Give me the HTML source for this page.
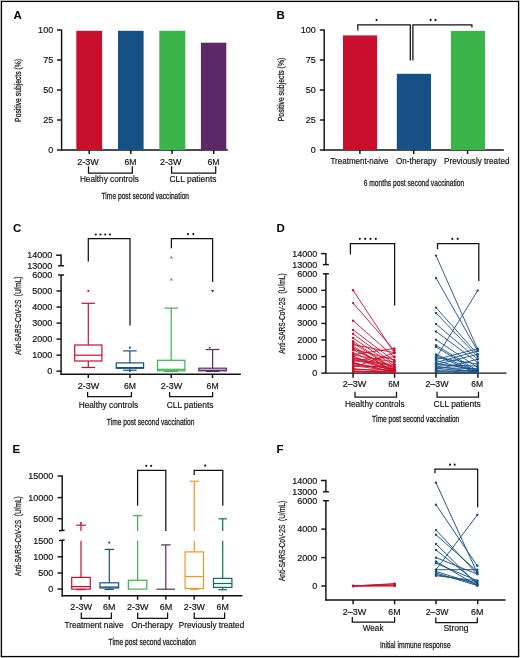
<!DOCTYPE html>
<html><head><meta charset="utf-8"><style>
html,body{margin:0;padding:0;background:#fff;}
svg{display:block;font-family:"Liberation Sans", sans-serif;}
svg{will-change:transform}
</style></head><body>
<svg width="520" height="658" viewBox="0 0 520 658">
<rect width="520" height="658" fill="#fff"/>
<rect x="0" y="0" width="520" height="1" fill="#c8c8c8"/>
<rect x="0" y="0" width="1" height="658" fill="#c8c8c8"/>
<rect x="519" y="0" width="1" height="658" fill="#cccccc"/>
<rect x="0" y="657" width="520" height="1" fill="#cccccc"/>
<rect x="1.5" y="1.5" width="517" height="655" fill="none" stroke="#000" stroke-width="1.15"/>
<text x="13.6" y="18.9" font-size="11.5" text-anchor="start" fill="#000" font-weight="bold">A</text>
<line x1="61.6" y1="29.6" x2="61.6" y2="150.6" stroke="#111" stroke-width="1.45"/>
<line x1="57" y1="30" x2="61.6" y2="30" stroke="#111" stroke-width="1.45"/>
<text x="53.2" y="33.4" font-size="8.6" text-anchor="end" fill="#111" font-weight="normal" stroke="#111" stroke-width="0.16" textLength="15.07" lengthAdjust="spacingAndGlyphs">100</text>
<line x1="57" y1="60" x2="61.6" y2="60" stroke="#111" stroke-width="1.45"/>
<text x="53.2" y="63.4" font-size="8.6" text-anchor="end" fill="#111" font-weight="normal" stroke="#111" stroke-width="0.16" textLength="10.04" lengthAdjust="spacingAndGlyphs">75</text>
<line x1="57" y1="90" x2="61.6" y2="90" stroke="#111" stroke-width="1.45"/>
<text x="53.2" y="93.4" font-size="8.6" text-anchor="end" fill="#111" font-weight="normal" stroke="#111" stroke-width="0.16" textLength="10.04" lengthAdjust="spacingAndGlyphs">50</text>
<line x1="57" y1="120" x2="61.6" y2="120" stroke="#111" stroke-width="1.45"/>
<text x="53.2" y="123.4" font-size="8.6" text-anchor="end" fill="#111" font-weight="normal" stroke="#111" stroke-width="0.16" textLength="10.04" lengthAdjust="spacingAndGlyphs">25</text>
<line x1="57" y1="150" x2="61.6" y2="150" stroke="#111" stroke-width="1.45"/>
<text x="53.2" y="153.4" font-size="8.6" text-anchor="end" fill="#111" font-weight="normal" stroke="#111" stroke-width="0.16" textLength="5.02" lengthAdjust="spacingAndGlyphs">0</text>
<line x1="61" y1="150" x2="227.8" y2="150" stroke="#111" stroke-width="1.45"/>
<rect x="76.3" y="30.8" width="25.799999999999997" height="119.2" fill="#c8102e"/>
<rect x="118" y="30.8" width="25.599999999999994" height="119.2" fill="#165185"/>
<rect x="159.3" y="30.8" width="26.0" height="119.2" fill="#3bb44a"/>
<rect x="200.9" y="42.7" width="25.400000000000006" height="107.3" fill="#5b2868"/>
<line x1="89.2" y1="150" x2="89.2" y2="154" stroke="#111" stroke-width="1.45"/>
<line x1="130.8" y1="150" x2="130.8" y2="154" stroke="#111" stroke-width="1.45"/>
<line x1="172.1" y1="150" x2="172.1" y2="154" stroke="#111" stroke-width="1.45"/>
<line x1="213.7" y1="150" x2="213.7" y2="154" stroke="#111" stroke-width="1.45"/>
<text transform="translate(21.2,90.4) rotate(-90)" x="0" y="0" font-size="9.8" text-anchor="middle" fill="#1e1e1e" stroke="#1e1e1e" stroke-width="0.3" textLength="63" lengthAdjust="spacingAndGlyphs">Positive subjects (%)</text>
<text x="88" y="164.6" font-size="8.2" text-anchor="middle" fill="#111" font-weight="normal" stroke="#111" stroke-width="0.16" textLength="21.5" lengthAdjust="spacingAndGlyphs">2-3W</text>
<text x="130.5" y="164.6" font-size="8.2" text-anchor="middle" fill="#111" font-weight="normal" stroke="#111" stroke-width="0.16" textLength="12" lengthAdjust="spacingAndGlyphs">6M</text>
<text x="170.8" y="164.6" font-size="8.2" text-anchor="middle" fill="#111" font-weight="normal" stroke="#111" stroke-width="0.16" textLength="21.5" lengthAdjust="spacingAndGlyphs">2-3W</text>
<text x="213.4" y="164.6" font-size="8.2" text-anchor="middle" fill="#111" font-weight="normal" stroke="#111" stroke-width="0.16" textLength="12" lengthAdjust="spacingAndGlyphs">6M</text>
<polyline points="88.5,166.3 88.5,173.0 132.3,173.0 132.3,166.3" fill="none" stroke="#111" stroke-width="1.25" stroke-linejoin="miter" stroke-linecap="butt"/>
<polyline points="171.6,166.3 171.6,173.0 215.7,173.0 215.7,166.3" fill="none" stroke="#111" stroke-width="1.25" stroke-linejoin="miter" stroke-linecap="butt"/>
<text x="109.4" y="181.6" font-size="8.2" text-anchor="middle" fill="#111" font-weight="normal" stroke="#111" stroke-width="0.16" textLength="59" lengthAdjust="spacingAndGlyphs">Healthy controls</text>
<text x="193" y="181.6" font-size="8.2" text-anchor="middle" fill="#111" font-weight="normal" stroke="#111" stroke-width="0.16" textLength="47" lengthAdjust="spacingAndGlyphs">CLL patients</text>
<text x="145.3" y="198.8" font-size="9.8" text-anchor="middle" fill="#1e1e1e" font-weight="normal" stroke="#1e1e1e" stroke-width="0.3" textLength="87.5" lengthAdjust="spacingAndGlyphs">Time post second vaccination</text>
<text x="276.5" y="19.3" font-size="11.5" text-anchor="start" fill="#000" font-weight="bold">B</text>
<line x1="324.2" y1="29.6" x2="324.2" y2="150.6" stroke="#111" stroke-width="1.45"/>
<line x1="319.8" y1="30" x2="324.2" y2="30" stroke="#111" stroke-width="1.45"/>
<text x="315.8" y="33.4" font-size="8.6" text-anchor="end" fill="#111" font-weight="normal" stroke="#111" stroke-width="0.16" textLength="15.07" lengthAdjust="spacingAndGlyphs">100</text>
<line x1="319.8" y1="60" x2="324.2" y2="60" stroke="#111" stroke-width="1.45"/>
<text x="315.8" y="63.4" font-size="8.6" text-anchor="end" fill="#111" font-weight="normal" stroke="#111" stroke-width="0.16" textLength="10.04" lengthAdjust="spacingAndGlyphs">75</text>
<line x1="319.8" y1="90" x2="324.2" y2="90" stroke="#111" stroke-width="1.45"/>
<text x="315.8" y="93.4" font-size="8.6" text-anchor="end" fill="#111" font-weight="normal" stroke="#111" stroke-width="0.16" textLength="10.04" lengthAdjust="spacingAndGlyphs">50</text>
<line x1="319.8" y1="120" x2="324.2" y2="120" stroke="#111" stroke-width="1.45"/>
<text x="315.8" y="123.4" font-size="8.6" text-anchor="end" fill="#111" font-weight="normal" stroke="#111" stroke-width="0.16" textLength="10.04" lengthAdjust="spacingAndGlyphs">25</text>
<line x1="319.8" y1="150" x2="324.2" y2="150" stroke="#111" stroke-width="1.45"/>
<text x="315.8" y="153.4" font-size="8.6" text-anchor="end" fill="#111" font-weight="normal" stroke="#111" stroke-width="0.16" textLength="5.02" lengthAdjust="spacingAndGlyphs">0</text>
<line x1="323.6" y1="150" x2="503.8" y2="150" stroke="#111" stroke-width="1.45"/>
<rect x="343" y="35.4" width="34.10000000000002" height="114.6" fill="#c8102e"/>
<rect x="396.8" y="73.8" width="34.19999999999999" height="76.2" fill="#165185"/>
<rect x="450.9" y="30.9" width="34.10000000000002" height="119.1" fill="#3bb44a"/>
<line x1="359.9" y1="150" x2="359.9" y2="154" stroke="#111" stroke-width="1.45"/>
<line x1="413.7" y1="150" x2="413.7" y2="154" stroke="#111" stroke-width="1.45"/>
<line x1="467.6" y1="150" x2="467.6" y2="154" stroke="#111" stroke-width="1.45"/>
<text transform="translate(284.2,89.5) rotate(-90)" x="0" y="0" font-size="9.8" text-anchor="middle" fill="#1e1e1e" stroke="#1e1e1e" stroke-width="0.3" textLength="63.5" lengthAdjust="spacingAndGlyphs">Positive subjects (%)</text>
<text x="359.5" y="163.6" font-size="8.2" text-anchor="middle" fill="#111" font-weight="normal" stroke="#111" stroke-width="0.16" textLength="58" lengthAdjust="spacingAndGlyphs">Treatment-naive</text>
<text x="416.2" y="163.6" font-size="8.2" text-anchor="middle" fill="#111" font-weight="normal" stroke="#111" stroke-width="0.16" textLength="40.5" lengthAdjust="spacingAndGlyphs">On-therapy</text>
<text x="476.8" y="163.6" font-size="8.2" text-anchor="middle" fill="#111" font-weight="normal" stroke="#111" stroke-width="0.16" textLength="65.5" lengthAdjust="spacingAndGlyphs">Previously treated</text>
<text x="414" y="185.9" font-size="9.8" text-anchor="middle" fill="#1e1e1e" font-weight="normal" stroke="#1e1e1e" stroke-width="0.3" textLength="100.5" lengthAdjust="spacingAndGlyphs">6 months post second vaccination</text>
<polyline points="357.8,30.6 357.8,24.8 410.3,24.8 410.3,60.6" fill="none" stroke="#111" stroke-width="1.25" stroke-linejoin="miter" stroke-linecap="butt"/>
<polyline points="412.9,60.6 412.9,24.8 471.9,24.8 471.9,27.6" fill="none" stroke="#111" stroke-width="1.25" stroke-linejoin="miter" stroke-linecap="butt"/>
<circle cx="376.6" cy="20.1" r="1.1" fill="#111"/>
<circle cx="430.6" cy="19.9" r="1.1" fill="#111"/>
<circle cx="435.5" cy="19.9" r="1.1" fill="#111"/>
<text x="13" y="232.2" font-size="11.5" text-anchor="start" fill="#000" font-weight="bold">C</text>
<line x1="61.1" y1="254.5" x2="61.1" y2="265.8" stroke="#111" stroke-width="1.45"/>
<line x1="56.1" y1="255.2" x2="61.1" y2="255.2" stroke="#111" stroke-width="1.45"/>
<text x="52.3" y="258.2" font-size="8.2" text-anchor="end" fill="#111" font-weight="normal" stroke="#111" stroke-width="0.16" textLength="25.08" lengthAdjust="spacingAndGlyphs">14000</text>
<line x1="58.1" y1="265.8" x2="64.1" y2="265.8" stroke="#111" stroke-width="1.45"/>
<text x="52.3" y="268.8" font-size="8.2" text-anchor="end" fill="#111" font-weight="normal" stroke="#111" stroke-width="0.16" textLength="25.08" lengthAdjust="spacingAndGlyphs">13000</text>
<line x1="61.1" y1="275.0" x2="61.1" y2="374.8" stroke="#111" stroke-width="1.45"/>
<line x1="58.1" y1="275.0" x2="64.1" y2="275.0" stroke="#111" stroke-width="1.45"/>
<text x="52.3" y="278.0" font-size="8.2" text-anchor="end" fill="#111" font-weight="normal" stroke="#111" stroke-width="0.16" textLength="20.07" lengthAdjust="spacingAndGlyphs">6000</text>
<line x1="56.5" y1="291.03" x2="61.1" y2="291.03" stroke="#111" stroke-width="1.45"/>
<text x="52.3" y="294.03" font-size="8.2" text-anchor="end" fill="#111" font-weight="normal" stroke="#111" stroke-width="0.16" textLength="20.07" lengthAdjust="spacingAndGlyphs">5000</text>
<line x1="56.5" y1="307.06" x2="61.1" y2="307.06" stroke="#111" stroke-width="1.45"/>
<text x="52.3" y="310.06" font-size="8.2" text-anchor="end" fill="#111" font-weight="normal" stroke="#111" stroke-width="0.16" textLength="20.07" lengthAdjust="spacingAndGlyphs">4000</text>
<line x1="56.5" y1="323.09000000000003" x2="61.1" y2="323.09000000000003" stroke="#111" stroke-width="1.45"/>
<text x="52.3" y="326.09000000000003" font-size="8.2" text-anchor="end" fill="#111" font-weight="normal" stroke="#111" stroke-width="0.16" textLength="20.07" lengthAdjust="spacingAndGlyphs">3000</text>
<line x1="56.5" y1="339.12" x2="61.1" y2="339.12" stroke="#111" stroke-width="1.45"/>
<text x="52.3" y="342.12" font-size="8.2" text-anchor="end" fill="#111" font-weight="normal" stroke="#111" stroke-width="0.16" textLength="20.07" lengthAdjust="spacingAndGlyphs">2000</text>
<line x1="56.5" y1="355.15" x2="61.1" y2="355.15" stroke="#111" stroke-width="1.45"/>
<text x="52.3" y="358.15" font-size="8.2" text-anchor="end" fill="#111" font-weight="normal" stroke="#111" stroke-width="0.16" textLength="20.07" lengthAdjust="spacingAndGlyphs">1000</text>
<line x1="56.5" y1="371.18" x2="61.1" y2="371.18" stroke="#111" stroke-width="1.45"/>
<text x="52.3" y="374.18" font-size="8.2" text-anchor="end" fill="#111" font-weight="normal" stroke="#111" stroke-width="0.16" textLength="5.02" lengthAdjust="spacingAndGlyphs">0</text>
<line x1="60.4" y1="374.2" x2="240.8" y2="374.2" stroke="#111" stroke-width="1.45"/>
<line x1="88.3" y1="374.2" x2="88.3" y2="378" stroke="#111" stroke-width="1.45"/>
<line x1="130" y1="374.2" x2="130" y2="378" stroke="#111" stroke-width="1.45"/>
<line x1="171.2" y1="374.2" x2="171.2" y2="378" stroke="#111" stroke-width="1.45"/>
<line x1="212.5" y1="374.2" x2="212.5" y2="378" stroke="#111" stroke-width="1.45"/>
<text transform="translate(21.0,315.7) rotate(-90)" x="0" y="0" font-size="9.8" text-anchor="middle" fill="#1e1e1e" stroke="#1e1e1e" stroke-width="0.3" textLength="78.3" lengthAdjust="spacingAndGlyphs">Anti-SARS-CoV-2S&#160;&#160;(U/mL)</text>
<line x1="88.3" y1="303.3" x2="88.3" y2="345" stroke="#c8102e" stroke-width="1.2"/>
<line x1="81.5" y1="303.3" x2="95.1" y2="303.3" stroke="#c8102e" stroke-width="1.2"/>
<line x1="88.3" y1="361" x2="88.3" y2="367.5" stroke="#c8102e" stroke-width="1.2"/>
<line x1="81.5" y1="367.5" x2="95.1" y2="367.5" stroke="#c8102e" stroke-width="1.2"/>
<rect x="74.7" y="345" width="27.2" height="16" fill="none" stroke="#c8102e" stroke-width="1.2"/>
<line x1="74.7" y1="355.2" x2="101.89999999999999" y2="355.2" stroke="#c8102e" stroke-width="1.2"/>
<circle cx="88.3" cy="290.8" r="1.1" fill="#c8102e"/>
<line x1="129.9" y1="350.9" x2="129.9" y2="362.9" stroke="#165185" stroke-width="1.2"/>
<line x1="123.10000000000001" y1="350.9" x2="136.70000000000002" y2="350.9" stroke="#165185" stroke-width="1.2"/>
<line x1="129.9" y1="368.3" x2="129.9" y2="370.2" stroke="#165185" stroke-width="1.2"/>
<line x1="123.10000000000001" y1="370.2" x2="136.70000000000002" y2="370.2" stroke="#165185" stroke-width="1.2"/>
<rect x="116.2" y="362.9" width="27.4" height="5.400000000000034" fill="none" stroke="#165185" stroke-width="1.2"/>
<line x1="116.2" y1="367.6" x2="143.6" y2="367.6" stroke="#165185" stroke-width="1.2"/>
<circle cx="129.9" cy="347.7" r="1.1" fill="#165185"/>
<circle cx="129.9" cy="371" r="1.0" fill="#165185"/>
<line x1="171.2" y1="308.1" x2="171.2" y2="360.3" stroke="#3bb44a" stroke-width="1.2"/>
<line x1="164.39999999999998" y1="308.1" x2="178.0" y2="308.1" stroke="#3bb44a" stroke-width="1.2"/>
<line x1="171.2" y1="370.8" x2="171.2" y2="371.4" stroke="#3bb44a" stroke-width="1.2"/>
<line x1="164.39999999999998" y1="371.4" x2="178.0" y2="371.4" stroke="#3bb44a" stroke-width="1.2"/>
<rect x="157.5" y="360.3" width="27.4" height="10.5" fill="none" stroke="#3bb44a" stroke-width="1.2"/>
<line x1="157.5" y1="369.3" x2="184.89999999999998" y2="369.3" stroke="#3bb44a" stroke-width="1.2"/>
<polygon points="169.8,258.58 173.0,258.58 171.4,255.70000000000002" fill="#3bb44a"/>
<polygon points="169.8,280.58 173.0,280.58 171.4,277.7" fill="#3bb44a"/>
<line x1="212.6" y1="349.5" x2="212.6" y2="368.2" stroke="#5b2868" stroke-width="1.2"/>
<line x1="205.79999999999998" y1="349.5" x2="219.4" y2="349.5" stroke="#5b2868" stroke-width="1.2"/>
<line x1="212.6" y1="370.8" x2="212.6" y2="371.4" stroke="#5b2868" stroke-width="1.2"/>
<line x1="205.79999999999998" y1="371.4" x2="219.4" y2="371.4" stroke="#5b2868" stroke-width="1.2"/>
<rect x="198.79999999999998" y="368.2" width="27.6" height="2.6000000000000227" fill="none" stroke="#5b2868" stroke-width="1.2"/>
<line x1="198.79999999999998" y1="370.2" x2="226.4" y2="370.2" stroke="#5b2868" stroke-width="1.2"/>
<polygon points="211.0,289.92 214.2,289.92 212.6,292.8" fill="#5b2868"/>
<circle cx="209.9" cy="347.6" r="0.9" fill="#5b2868"/>
<polyline points="88.3,261.5 88.3,238.6 130,238.6 130,325.4" fill="none" stroke="#111" stroke-width="1.25" stroke-linejoin="miter" stroke-linecap="butt"/>
<polyline points="171.4,248.2 171.4,238.6 212.6,238.6 212.6,282.1" fill="none" stroke="#111" stroke-width="1.25" stroke-linejoin="miter" stroke-linecap="butt"/>
<circle cx="95.75" cy="234.5" r="1.1" fill="#111"/>
<circle cx="100.5" cy="234.5" r="1.1" fill="#111"/>
<circle cx="105.25" cy="234.5" r="1.1" fill="#111"/>
<circle cx="110.0" cy="234.5" r="1.1" fill="#111"/>
<circle cx="187.9" cy="234.1" r="1.1" fill="#111"/>
<circle cx="193.3" cy="234.1" r="1.1" fill="#111"/>
<text x="88.5" y="389.4" font-size="8.2" text-anchor="middle" fill="#111" font-weight="normal" stroke="#111" stroke-width="0.16" textLength="21.5" lengthAdjust="spacingAndGlyphs">2-3W</text>
<text x="130" y="389.4" font-size="8.2" text-anchor="middle" fill="#111" font-weight="normal" stroke="#111" stroke-width="0.16" textLength="12" lengthAdjust="spacingAndGlyphs">6M</text>
<text x="171.4" y="389.4" font-size="8.2" text-anchor="middle" fill="#111" font-weight="normal" stroke="#111" stroke-width="0.16" textLength="21.5" lengthAdjust="spacingAndGlyphs">2-3W</text>
<text x="212.6" y="389.4" font-size="8.2" text-anchor="middle" fill="#111" font-weight="normal" stroke="#111" stroke-width="0.16" textLength="12" lengthAdjust="spacingAndGlyphs">6M</text>
<polyline points="87.6,392 87.6,396.7 131.4,396.7 131.4,392" fill="none" stroke="#111" stroke-width="1.25" stroke-linejoin="miter" stroke-linecap="butt"/>
<polyline points="169.6,392 169.6,396.7 212.6,396.7 212.6,392" fill="none" stroke="#111" stroke-width="1.25" stroke-linejoin="miter" stroke-linecap="butt"/>
<text x="108.4" y="408" font-size="8.2" text-anchor="middle" fill="#111" font-weight="normal" stroke="#111" stroke-width="0.16" textLength="59.5" lengthAdjust="spacingAndGlyphs">Healthy controls</text>
<text x="190.1" y="408" font-size="8.2" text-anchor="middle" fill="#111" font-weight="normal" stroke="#111" stroke-width="0.16" textLength="46.8" lengthAdjust="spacingAndGlyphs">CLL patients</text>
<text x="150.6" y="424.6" font-size="9.8" text-anchor="middle" fill="#1e1e1e" font-weight="normal" stroke="#1e1e1e" stroke-width="0.3" textLength="87.5" lengthAdjust="spacingAndGlyphs">Time post second vaccination</text>
<text x="276.4" y="231.9" font-size="11.5" text-anchor="start" fill="#000" font-weight="bold">D</text>
<line x1="325.9" y1="252.9" x2="325.9" y2="264.6" stroke="#111" stroke-width="1.45"/>
<line x1="320.9" y1="253.6" x2="325.9" y2="253.6" stroke="#111" stroke-width="1.45"/>
<text x="317.3" y="256.6" font-size="8.2" text-anchor="end" fill="#111" font-weight="normal" stroke="#111" stroke-width="0.16" textLength="25.08" lengthAdjust="spacingAndGlyphs">14000</text>
<line x1="322.9" y1="264.6" x2="328.9" y2="264.6" stroke="#111" stroke-width="1.45"/>
<text x="317.3" y="267.6" font-size="8.2" text-anchor="end" fill="#111" font-weight="normal" stroke="#111" stroke-width="0.16" textLength="25.08" lengthAdjust="spacingAndGlyphs">13000</text>
<line x1="325.9" y1="273.8" x2="325.9" y2="373.6" stroke="#111" stroke-width="1.45"/>
<line x1="322.9" y1="273.8" x2="328.9" y2="273.8" stroke="#111" stroke-width="1.45"/>
<text x="317.3" y="276.8" font-size="8.2" text-anchor="end" fill="#111" font-weight="normal" stroke="#111" stroke-width="0.16" textLength="20.07" lengthAdjust="spacingAndGlyphs">6000</text>
<line x1="321.29999999999995" y1="290.35" x2="325.9" y2="290.35" stroke="#111" stroke-width="1.45"/>
<text x="317.3" y="293.35" font-size="8.2" text-anchor="end" fill="#111" font-weight="normal" stroke="#111" stroke-width="0.16" textLength="20.07" lengthAdjust="spacingAndGlyphs">5000</text>
<line x1="321.29999999999995" y1="306.90000000000003" x2="325.9" y2="306.90000000000003" stroke="#111" stroke-width="1.45"/>
<text x="317.3" y="309.90000000000003" font-size="8.2" text-anchor="end" fill="#111" font-weight="normal" stroke="#111" stroke-width="0.16" textLength="20.07" lengthAdjust="spacingAndGlyphs">4000</text>
<line x1="321.29999999999995" y1="323.45000000000005" x2="325.9" y2="323.45000000000005" stroke="#111" stroke-width="1.45"/>
<text x="317.3" y="326.45000000000005" font-size="8.2" text-anchor="end" fill="#111" font-weight="normal" stroke="#111" stroke-width="0.16" textLength="20.07" lengthAdjust="spacingAndGlyphs">3000</text>
<line x1="321.29999999999995" y1="340.0" x2="325.9" y2="340.0" stroke="#111" stroke-width="1.45"/>
<text x="317.3" y="343.0" font-size="8.2" text-anchor="end" fill="#111" font-weight="normal" stroke="#111" stroke-width="0.16" textLength="20.07" lengthAdjust="spacingAndGlyphs">2000</text>
<line x1="321.29999999999995" y1="356.55" x2="325.9" y2="356.55" stroke="#111" stroke-width="1.45"/>
<text x="317.3" y="359.55" font-size="8.2" text-anchor="end" fill="#111" font-weight="normal" stroke="#111" stroke-width="0.16" textLength="20.07" lengthAdjust="spacingAndGlyphs">1000</text>
<line x1="321.29999999999995" y1="373.1" x2="325.9" y2="373.1" stroke="#111" stroke-width="1.45"/>
<text x="317.3" y="376.1" font-size="8.2" text-anchor="end" fill="#111" font-weight="normal" stroke="#111" stroke-width="0.16" textLength="5.02" lengthAdjust="spacingAndGlyphs">0</text>
<line x1="325.2" y1="373.1" x2="506.5" y2="373.1" stroke="#111" stroke-width="1.45"/>
<line x1="353.1" y1="373.1" x2="353.1" y2="377.7" stroke="#111" stroke-width="1.45"/>
<line x1="394.6" y1="373.1" x2="394.6" y2="377.7" stroke="#111" stroke-width="1.45"/>
<line x1="436" y1="373.1" x2="436" y2="377.7" stroke="#111" stroke-width="1.45"/>
<line x1="477.9" y1="373.1" x2="477.9" y2="377.7" stroke="#111" stroke-width="1.45"/>
<text transform="translate(284.9,313.6) rotate(-90)" x="0" y="0" font-size="9.8" text-anchor="middle" fill="#1e1e1e" stroke="#1e1e1e" stroke-width="0.3" textLength="80.4" lengthAdjust="spacingAndGlyphs">Anti-SARS-CoV-2S&#160;&#160;(U/mL)</text>
<polyline points="350.4,254.6 350.4,243.6 394.6,243.6 394.6,305.4" fill="none" stroke="#111" stroke-width="1.25" stroke-linejoin="miter" stroke-linecap="butt"/>
<polyline points="437.5,249.2 437.5,243.6 478.8,243.6 478.8,281" fill="none" stroke="#111" stroke-width="1.25" stroke-linejoin="miter" stroke-linecap="butt"/>
<circle cx="359.8" cy="238.8" r="1.1" fill="#111"/>
<circle cx="365.1" cy="238.8" r="1.1" fill="#111"/>
<circle cx="370.5" cy="238.8" r="1.1" fill="#111"/>
<circle cx="375.8" cy="238.8" r="1.1" fill="#111"/>
<circle cx="452.3" cy="238.8" r="1.1" fill="#111"/>
<circle cx="457.7" cy="238.8" r="1.1" fill="#111"/>
<line x1="353.1" y1="290.3" x2="394.4" y2="353" stroke="#c8102e" stroke-width="0.9"/>
<line x1="353.1" y1="303.1" x2="394.4" y2="350.5" stroke="#c8102e" stroke-width="0.9"/>
<line x1="353.1" y1="320.7" x2="394.4" y2="357" stroke="#c8102e" stroke-width="0.9"/>
<line x1="353.1" y1="329.9" x2="394.4" y2="361" stroke="#c8102e" stroke-width="0.9"/>
<line x1="353.1" y1="333.8" x2="394.4" y2="364.2" stroke="#c8102e" stroke-width="0.9"/>
<line x1="353.1" y1="338" x2="394.4" y2="366" stroke="#c8102e" stroke-width="0.9"/>
<line x1="353.1" y1="341.3" x2="394.4" y2="369" stroke="#c8102e" stroke-width="0.9"/>
<line x1="353.1" y1="344.6" x2="394.4" y2="352.7" stroke="#c8102e" stroke-width="0.9"/>
<line x1="353.1" y1="347.8" x2="394.4" y2="371.7" stroke="#c8102e" stroke-width="0.9"/>
<line x1="353.1" y1="350" x2="394.4" y2="367.5" stroke="#c8102e" stroke-width="0.9"/>
<line x1="353.1" y1="352.7" x2="394.4" y2="370.5" stroke="#c8102e" stroke-width="0.9"/>
<line x1="353.1" y1="354.5" x2="394.4" y2="348.5" stroke="#c8102e" stroke-width="0.9"/>
<line x1="353.1" y1="356" x2="394.4" y2="372" stroke="#c8102e" stroke-width="0.9"/>
<line x1="353.1" y1="357.6" x2="394.4" y2="366.5" stroke="#c8102e" stroke-width="0.9"/>
<line x1="353.1" y1="359" x2="394.4" y2="371" stroke="#c8102e" stroke-width="0.9"/>
<line x1="353.1" y1="360.5" x2="394.4" y2="356.7" stroke="#c8102e" stroke-width="0.9"/>
<line x1="353.1" y1="362.5" x2="394.4" y2="372.3" stroke="#c8102e" stroke-width="0.9"/>
<line x1="353.1" y1="364" x2="394.4" y2="369" stroke="#c8102e" stroke-width="0.9"/>
<line x1="353.1" y1="365.5" x2="394.4" y2="371.5" stroke="#c8102e" stroke-width="0.9"/>
<line x1="353.1" y1="367.5" x2="394.4" y2="352.7" stroke="#c8102e" stroke-width="0.9"/>
<line x1="353.1" y1="368.5" x2="394.4" y2="372.5" stroke="#c8102e" stroke-width="0.9"/>
<line x1="353.1" y1="369.5" x2="394.4" y2="370.2" stroke="#c8102e" stroke-width="0.9"/>
<line x1="353.1" y1="370.7" x2="394.4" y2="372.6" stroke="#c8102e" stroke-width="0.9"/>
<line x1="353.1" y1="346" x2="394.4" y2="372.4" stroke="#c8102e" stroke-width="0.9"/>
<line x1="353.1" y1="355" x2="394.4" y2="362" stroke="#c8102e" stroke-width="0.9"/>
<line x1="353.1" y1="358" x2="394.4" y2="369.5" stroke="#c8102e" stroke-width="0.9"/>
<line x1="353.1" y1="361" x2="394.4" y2="364.5" stroke="#c8102e" stroke-width="0.9"/>
<line x1="353.1" y1="363" x2="394.4" y2="372" stroke="#c8102e" stroke-width="0.9"/>
<line x1="353.1" y1="366" x2="394.4" y2="367" stroke="#c8102e" stroke-width="0.9"/>
<line x1="353.1" y1="349" x2="394.4" y2="360" stroke="#c8102e" stroke-width="0.9"/>
<line x1="353.1" y1="343" x2="394.4" y2="369.8" stroke="#c8102e" stroke-width="0.9"/>
<line x1="353.1" y1="371.5" x2="394.4" y2="371.8" stroke="#c8102e" stroke-width="0.9"/>
<line x1="353.1" y1="372" x2="394.4" y2="372.8" stroke="#c8102e" stroke-width="0.9"/>
<circle cx="353.1" cy="290.3" r="1.2" fill="#c8102e"/>
<circle cx="394.4" cy="353" r="1.2" fill="#c8102e"/>
<circle cx="353.1" cy="303.1" r="1.2" fill="#c8102e"/>
<circle cx="394.4" cy="350.5" r="1.2" fill="#c8102e"/>
<circle cx="353.1" cy="320.7" r="1.2" fill="#c8102e"/>
<circle cx="394.4" cy="357" r="1.2" fill="#c8102e"/>
<circle cx="353.1" cy="329.9" r="1.2" fill="#c8102e"/>
<circle cx="394.4" cy="361" r="1.2" fill="#c8102e"/>
<circle cx="353.1" cy="333.8" r="1.2" fill="#c8102e"/>
<circle cx="394.4" cy="364.2" r="1.2" fill="#c8102e"/>
<circle cx="353.1" cy="338" r="1.2" fill="#c8102e"/>
<circle cx="394.4" cy="366" r="1.2" fill="#c8102e"/>
<circle cx="353.1" cy="341.3" r="1.2" fill="#c8102e"/>
<circle cx="394.4" cy="369" r="1.2" fill="#c8102e"/>
<circle cx="353.1" cy="344.6" r="1.2" fill="#c8102e"/>
<circle cx="394.4" cy="352.7" r="1.2" fill="#c8102e"/>
<circle cx="353.1" cy="347.8" r="1.2" fill="#c8102e"/>
<circle cx="394.4" cy="371.7" r="1.2" fill="#c8102e"/>
<circle cx="353.1" cy="350" r="1.2" fill="#c8102e"/>
<circle cx="394.4" cy="367.5" r="1.2" fill="#c8102e"/>
<circle cx="353.1" cy="352.7" r="1.2" fill="#c8102e"/>
<circle cx="394.4" cy="370.5" r="1.2" fill="#c8102e"/>
<circle cx="353.1" cy="354.5" r="1.2" fill="#c8102e"/>
<circle cx="394.4" cy="348.5" r="1.2" fill="#c8102e"/>
<circle cx="353.1" cy="356" r="1.2" fill="#c8102e"/>
<circle cx="394.4" cy="372" r="1.2" fill="#c8102e"/>
<circle cx="353.1" cy="357.6" r="1.2" fill="#c8102e"/>
<circle cx="394.4" cy="366.5" r="1.2" fill="#c8102e"/>
<circle cx="353.1" cy="359" r="1.2" fill="#c8102e"/>
<circle cx="394.4" cy="371" r="1.2" fill="#c8102e"/>
<circle cx="353.1" cy="360.5" r="1.2" fill="#c8102e"/>
<circle cx="394.4" cy="356.7" r="1.2" fill="#c8102e"/>
<circle cx="353.1" cy="362.5" r="1.2" fill="#c8102e"/>
<circle cx="394.4" cy="372.3" r="1.2" fill="#c8102e"/>
<circle cx="353.1" cy="364" r="1.2" fill="#c8102e"/>
<circle cx="394.4" cy="369" r="1.2" fill="#c8102e"/>
<circle cx="353.1" cy="365.5" r="1.2" fill="#c8102e"/>
<circle cx="394.4" cy="371.5" r="1.2" fill="#c8102e"/>
<circle cx="353.1" cy="367.5" r="1.2" fill="#c8102e"/>
<circle cx="394.4" cy="352.7" r="1.2" fill="#c8102e"/>
<circle cx="353.1" cy="368.5" r="1.2" fill="#c8102e"/>
<circle cx="394.4" cy="372.5" r="1.2" fill="#c8102e"/>
<circle cx="353.1" cy="369.5" r="1.2" fill="#c8102e"/>
<circle cx="394.4" cy="370.2" r="1.2" fill="#c8102e"/>
<circle cx="353.1" cy="370.7" r="1.2" fill="#c8102e"/>
<circle cx="394.4" cy="372.6" r="1.2" fill="#c8102e"/>
<circle cx="353.1" cy="346" r="1.2" fill="#c8102e"/>
<circle cx="394.4" cy="372.4" r="1.2" fill="#c8102e"/>
<circle cx="353.1" cy="355" r="1.2" fill="#c8102e"/>
<circle cx="394.4" cy="362" r="1.2" fill="#c8102e"/>
<circle cx="353.1" cy="358" r="1.2" fill="#c8102e"/>
<circle cx="394.4" cy="369.5" r="1.2" fill="#c8102e"/>
<circle cx="353.1" cy="361" r="1.2" fill="#c8102e"/>
<circle cx="394.4" cy="364.5" r="1.2" fill="#c8102e"/>
<circle cx="353.1" cy="363" r="1.2" fill="#c8102e"/>
<circle cx="394.4" cy="372" r="1.2" fill="#c8102e"/>
<circle cx="353.1" cy="366" r="1.2" fill="#c8102e"/>
<circle cx="394.4" cy="367" r="1.2" fill="#c8102e"/>
<circle cx="353.1" cy="349" r="1.2" fill="#c8102e"/>
<circle cx="394.4" cy="360" r="1.2" fill="#c8102e"/>
<circle cx="353.1" cy="343" r="1.2" fill="#c8102e"/>
<circle cx="394.4" cy="369.8" r="1.2" fill="#c8102e"/>
<circle cx="353.1" cy="371.5" r="1.2" fill="#c8102e"/>
<circle cx="394.4" cy="371.8" r="1.2" fill="#c8102e"/>
<circle cx="353.1" cy="372" r="1.2" fill="#c8102e"/>
<circle cx="394.4" cy="372.8" r="1.2" fill="#c8102e"/>
<line x1="436" y1="255.6" x2="477.7" y2="349.4" stroke="#165185" stroke-width="0.9"/>
<line x1="436" y1="278" x2="477.7" y2="351.1" stroke="#165185" stroke-width="0.9"/>
<line x1="436" y1="307.6" x2="477.7" y2="354.4" stroke="#165185" stroke-width="0.9"/>
<line x1="436" y1="312.9" x2="477.7" y2="356.7" stroke="#165185" stroke-width="0.9"/>
<line x1="436" y1="324" x2="477.7" y2="359.3" stroke="#165185" stroke-width="0.9"/>
<line x1="436" y1="331.5" x2="477.7" y2="362.5" stroke="#165185" stroke-width="0.9"/>
<line x1="436" y1="339.7" x2="477.7" y2="367.5" stroke="#165185" stroke-width="0.9"/>
<line x1="436" y1="345.2" x2="477.7" y2="370.7" stroke="#165185" stroke-width="0.9"/>
<line x1="436" y1="346.9" x2="477.7" y2="372.3" stroke="#165185" stroke-width="0.9"/>
<line x1="436" y1="357.9" x2="477.7" y2="290.6" stroke="#165185" stroke-width="0.9"/>
<line x1="436" y1="354.4" x2="477.7" y2="371.5" stroke="#165185" stroke-width="0.9"/>
<line x1="436" y1="357.6" x2="477.7" y2="364" stroke="#165185" stroke-width="0.9"/>
<line x1="436" y1="359.5" x2="477.7" y2="348.8" stroke="#165185" stroke-width="0.9"/>
<line x1="436" y1="362.5" x2="477.7" y2="351.1" stroke="#165185" stroke-width="0.9"/>
<line x1="436" y1="364.5" x2="477.7" y2="354.4" stroke="#165185" stroke-width="0.9"/>
<line x1="436" y1="366" x2="477.7" y2="372.4" stroke="#165185" stroke-width="0.9"/>
<line x1="436" y1="367.5" x2="477.7" y2="368.8" stroke="#165185" stroke-width="0.9"/>
<line x1="436" y1="368.5" x2="477.7" y2="371.8" stroke="#165185" stroke-width="0.9"/>
<line x1="436" y1="369.5" x2="477.7" y2="359.3" stroke="#165185" stroke-width="0.9"/>
<line x1="436" y1="370.5" x2="477.7" y2="372.6" stroke="#165185" stroke-width="0.9"/>
<line x1="436" y1="371.3" x2="477.7" y2="370.2" stroke="#165185" stroke-width="0.9"/>
<line x1="436" y1="372" x2="477.7" y2="372.8" stroke="#165185" stroke-width="0.9"/>
<line x1="436" y1="360.5" x2="477.7" y2="372" stroke="#165185" stroke-width="0.9"/>
<line x1="436" y1="363.5" x2="477.7" y2="369.5" stroke="#165185" stroke-width="0.9"/>
<line x1="436" y1="365" x2="477.7" y2="366" stroke="#165185" stroke-width="0.9"/>
<line x1="436" y1="355.8" x2="477.7" y2="373" stroke="#165185" stroke-width="0.9"/>
<circle cx="436" cy="255.6" r="1.2" fill="#165185"/>
<circle cx="477.7" cy="349.4" r="1.2" fill="#165185"/>
<circle cx="436" cy="278" r="1.2" fill="#165185"/>
<circle cx="477.7" cy="351.1" r="1.2" fill="#165185"/>
<circle cx="436" cy="307.6" r="1.2" fill="#165185"/>
<circle cx="477.7" cy="354.4" r="1.2" fill="#165185"/>
<circle cx="436" cy="312.9" r="1.2" fill="#165185"/>
<circle cx="477.7" cy="356.7" r="1.2" fill="#165185"/>
<circle cx="436" cy="324" r="1.2" fill="#165185"/>
<circle cx="477.7" cy="359.3" r="1.2" fill="#165185"/>
<circle cx="436" cy="331.5" r="1.2" fill="#165185"/>
<circle cx="477.7" cy="362.5" r="1.2" fill="#165185"/>
<circle cx="436" cy="339.7" r="1.2" fill="#165185"/>
<circle cx="477.7" cy="367.5" r="1.2" fill="#165185"/>
<circle cx="436" cy="345.2" r="1.2" fill="#165185"/>
<circle cx="477.7" cy="370.7" r="1.2" fill="#165185"/>
<circle cx="436" cy="346.9" r="1.2" fill="#165185"/>
<circle cx="477.7" cy="372.3" r="1.2" fill="#165185"/>
<circle cx="436" cy="357.9" r="1.2" fill="#165185"/>
<circle cx="477.7" cy="290.6" r="1.2" fill="#165185"/>
<circle cx="436" cy="354.4" r="1.2" fill="#165185"/>
<circle cx="477.7" cy="371.5" r="1.2" fill="#165185"/>
<circle cx="436" cy="357.6" r="1.2" fill="#165185"/>
<circle cx="477.7" cy="364" r="1.2" fill="#165185"/>
<circle cx="436" cy="359.5" r="1.2" fill="#165185"/>
<circle cx="477.7" cy="348.8" r="1.2" fill="#165185"/>
<circle cx="436" cy="362.5" r="1.2" fill="#165185"/>
<circle cx="477.7" cy="351.1" r="1.2" fill="#165185"/>
<circle cx="436" cy="364.5" r="1.2" fill="#165185"/>
<circle cx="477.7" cy="354.4" r="1.2" fill="#165185"/>
<circle cx="436" cy="366" r="1.2" fill="#165185"/>
<circle cx="477.7" cy="372.4" r="1.2" fill="#165185"/>
<circle cx="436" cy="367.5" r="1.2" fill="#165185"/>
<circle cx="477.7" cy="368.8" r="1.2" fill="#165185"/>
<circle cx="436" cy="368.5" r="1.2" fill="#165185"/>
<circle cx="477.7" cy="371.8" r="1.2" fill="#165185"/>
<circle cx="436" cy="369.5" r="1.2" fill="#165185"/>
<circle cx="477.7" cy="359.3" r="1.2" fill="#165185"/>
<circle cx="436" cy="370.5" r="1.2" fill="#165185"/>
<circle cx="477.7" cy="372.6" r="1.2" fill="#165185"/>
<circle cx="436" cy="371.3" r="1.2" fill="#165185"/>
<circle cx="477.7" cy="370.2" r="1.2" fill="#165185"/>
<circle cx="436" cy="372" r="1.2" fill="#165185"/>
<circle cx="477.7" cy="372.8" r="1.2" fill="#165185"/>
<circle cx="436" cy="360.5" r="1.2" fill="#165185"/>
<circle cx="477.7" cy="372" r="1.2" fill="#165185"/>
<circle cx="436" cy="363.5" r="1.2" fill="#165185"/>
<circle cx="477.7" cy="369.5" r="1.2" fill="#165185"/>
<circle cx="436" cy="365" r="1.2" fill="#165185"/>
<circle cx="477.7" cy="366" r="1.2" fill="#165185"/>
<circle cx="436" cy="355.8" r="1.2" fill="#165185"/>
<circle cx="477.7" cy="373" r="1.2" fill="#165185"/>
<text x="354.5" y="387.4" font-size="8.2" text-anchor="middle" fill="#111" font-weight="normal" stroke="#111" stroke-width="0.16" textLength="23.5" lengthAdjust="spacingAndGlyphs">2–3W</text>
<text x="394" y="387.4" font-size="8.2" text-anchor="middle" fill="#111" font-weight="normal" stroke="#111" stroke-width="0.16" textLength="11.5" lengthAdjust="spacingAndGlyphs">6M</text>
<text x="437" y="387.4" font-size="8.2" text-anchor="middle" fill="#111" font-weight="normal" stroke="#111" stroke-width="0.16" textLength="23.1" lengthAdjust="spacingAndGlyphs">2–3W</text>
<text x="477.1" y="387.4" font-size="8.2" text-anchor="middle" fill="#111" font-weight="normal" stroke="#111" stroke-width="0.16" textLength="11.8" lengthAdjust="spacingAndGlyphs">6M</text>
<polyline points="355,391.7 355,397.2 396.5,397.2 396.5,391.7" fill="none" stroke="#111" stroke-width="1.25" stroke-linejoin="miter" stroke-linecap="butt"/>
<polyline points="437,391.7 437,397.2 478.5,397.2 478.5,391.7" fill="none" stroke="#111" stroke-width="1.25" stroke-linejoin="miter" stroke-linecap="butt"/>
<text x="374.8" y="407.3" font-size="8.2" text-anchor="middle" fill="#111" font-weight="normal" stroke="#111" stroke-width="0.16" textLength="59.6" lengthAdjust="spacingAndGlyphs">Healthy controls</text>
<text x="457.2" y="407.3" font-size="8.2" text-anchor="middle" fill="#111" font-weight="normal" stroke="#111" stroke-width="0.16" textLength="47.3" lengthAdjust="spacingAndGlyphs">CLL patients</text>
<text x="415.7" y="422.4" font-size="9.8" text-anchor="middle" fill="#1e1e1e" font-weight="normal" stroke="#1e1e1e" stroke-width="0.3" textLength="87.2" lengthAdjust="spacingAndGlyphs">Time post second vaccination</text>
<text x="12.4" y="453.2" font-size="11.5" text-anchor="start" fill="#000" font-weight="bold">E</text>
<line x1="62.2" y1="475.4" x2="62.2" y2="530.8" stroke="#111" stroke-width="1.45"/>
<line x1="57.6" y1="476" x2="62.2" y2="476" stroke="#111" stroke-width="1.45"/>
<text x="53.3" y="479.3" font-size="8.2" text-anchor="end" fill="#111" font-weight="normal" stroke="#111" stroke-width="0.16" textLength="25.08" lengthAdjust="spacingAndGlyphs">15000</text>
<line x1="57.6" y1="497.6" x2="62.2" y2="497.6" stroke="#111" stroke-width="1.45"/>
<text x="53.3" y="500.90000000000003" font-size="8.2" text-anchor="end" fill="#111" font-weight="normal" stroke="#111" stroke-width="0.16" textLength="25.08" lengthAdjust="spacingAndGlyphs">10000</text>
<line x1="57.6" y1="518.7" x2="62.2" y2="518.7" stroke="#111" stroke-width="1.45"/>
<text x="53.3" y="522.0" font-size="8.2" text-anchor="end" fill="#111" font-weight="normal" stroke="#111" stroke-width="0.16" textLength="20.07" lengthAdjust="spacingAndGlyphs">5000</text>
<line x1="59.0" y1="530.8" x2="64.60000000000001" y2="530.2" stroke="#111" stroke-width="1.45"/>
<line x1="62.2" y1="540.6" x2="62.2" y2="596.5" stroke="#111" stroke-width="1.45"/>
<line x1="59.0" y1="540.6" x2="64.60000000000001" y2="540.0" stroke="#111" stroke-width="1.45"/>
<text x="53.3" y="544.1999999999999" font-size="8.2" text-anchor="end" fill="#111" font-weight="normal" stroke="#111" stroke-width="0.16" textLength="20.07" lengthAdjust="spacingAndGlyphs">1500</text>
<line x1="57.6" y1="556.8" x2="62.2" y2="556.8" stroke="#111" stroke-width="1.45"/>
<text x="53.3" y="560.0999999999999" font-size="8.2" text-anchor="end" fill="#111" font-weight="normal" stroke="#111" stroke-width="0.16" textLength="20.07" lengthAdjust="spacingAndGlyphs">1000</text>
<line x1="57.6" y1="573" x2="62.2" y2="573" stroke="#111" stroke-width="1.45"/>
<text x="53.3" y="576.3" font-size="8.2" text-anchor="end" fill="#111" font-weight="normal" stroke="#111" stroke-width="0.16" textLength="15.05" lengthAdjust="spacingAndGlyphs">500</text>
<line x1="57.6" y1="589.1" x2="62.2" y2="589.1" stroke="#111" stroke-width="1.45"/>
<text x="53.3" y="592.4" font-size="8.2" text-anchor="end" fill="#111" font-weight="normal" stroke="#111" stroke-width="0.16" textLength="5.02" lengthAdjust="spacingAndGlyphs">0</text>
<line x1="61.6" y1="595.8" x2="242.4" y2="595.8" stroke="#111" stroke-width="1.45"/>
<line x1="81" y1="595.8" x2="81" y2="599.8" stroke="#111" stroke-width="1.45"/>
<line x1="109.3" y1="595.8" x2="109.3" y2="599.8" stroke="#111" stroke-width="1.45"/>
<line x1="137.6" y1="595.8" x2="137.6" y2="599.8" stroke="#111" stroke-width="1.45"/>
<line x1="165.8" y1="595.8" x2="165.8" y2="599.8" stroke="#111" stroke-width="1.45"/>
<line x1="194.2" y1="595.8" x2="194.2" y2="599.8" stroke="#111" stroke-width="1.45"/>
<line x1="222.8" y1="595.8" x2="222.8" y2="599.8" stroke="#111" stroke-width="1.45"/>
<text transform="translate(21.4,536.1) rotate(-90)" x="0" y="0" font-size="9.8" text-anchor="middle" fill="#1e1e1e" stroke="#1e1e1e" stroke-width="0.3" textLength="79.8" lengthAdjust="spacingAndGlyphs">Anti-SARS-CoV-2S&#160;&#160;(U/mL)</text>
<line x1="81" y1="525.2" x2="81" y2="530.9" stroke="#c8102e" stroke-width="1.2"/>
<line x1="81" y1="540.7" x2="81" y2="577.4" stroke="#c8102e" stroke-width="1.2"/>
<line x1="76.2" y1="525.2" x2="85.8" y2="525.2" stroke="#c8102e" stroke-width="1.2"/>
<line x1="81" y1="589.1" x2="81" y2="589.6" stroke="#c8102e" stroke-width="1.2"/>
<line x1="76.2" y1="589.6" x2="85.8" y2="589.6" stroke="#c8102e" stroke-width="1.2"/>
<rect x="71.7" y="577.4" width="18.6" height="11.700000000000045" fill="none" stroke="#c8102e" stroke-width="1.2"/>
<line x1="71.7" y1="586.6" x2="90.3" y2="586.6" stroke="#c8102e" stroke-width="1.2"/>
<line x1="81" y1="522.4" x2="81" y2="525.2" stroke="#c8102e" stroke-width="1.2"/>
<circle cx="81" cy="523.0" r="0.9" fill="#c8102e"/>
<line x1="109.3" y1="549.4" x2="109.3" y2="582.8" stroke="#165185" stroke-width="1.2"/>
<line x1="104.64999999999999" y1="549.4" x2="113.95" y2="549.4" stroke="#165185" stroke-width="1.2"/>
<line x1="109.3" y1="588" x2="109.3" y2="589.4" stroke="#165185" stroke-width="1.2"/>
<line x1="104.64999999999999" y1="589.4" x2="113.95" y2="589.4" stroke="#165185" stroke-width="1.2"/>
<rect x="99.95" y="582.8" width="18.7" height="5.2000000000000455" fill="none" stroke="#165185" stroke-width="1.2"/>
<line x1="99.95" y1="587" x2="118.64999999999999" y2="587" stroke="#165185" stroke-width="1.2"/>
<circle cx="109.3" cy="542.6" r="1.1" fill="#165185"/>
<line x1="137.6" y1="515.7" x2="137.6" y2="530.9" stroke="#3bb44a" stroke-width="1.2"/>
<line x1="137.6" y1="540.7" x2="137.6" y2="580.3" stroke="#3bb44a" stroke-width="1.2"/>
<line x1="132.85" y1="515.7" x2="142.35" y2="515.7" stroke="#3bb44a" stroke-width="1.2"/>
<rect x="128.35" y="580.3" width="18.5" height="8.800000000000068" fill="none" stroke="#3bb44a" stroke-width="1.2"/>
<line x1="165.8" y1="544.9" x2="165.8" y2="589.2" stroke="#5b2868" stroke-width="1.2"/>
<line x1="161.2" y1="544.9" x2="170.8" y2="544.9" stroke="#5b2868" stroke-width="1.2"/>
<line x1="156.5" y1="589.2" x2="175" y2="589.2" stroke="#5b2868" stroke-width="1.2"/>
<line x1="194.3" y1="481.2" x2="194.3" y2="530.9" stroke="#f7941d" stroke-width="1.2"/>
<line x1="194.3" y1="540.7" x2="194.3" y2="551.9" stroke="#f7941d" stroke-width="1.2"/>
<line x1="189.65" y1="481.2" x2="198.95000000000002" y2="481.2" stroke="#f7941d" stroke-width="1.2"/>
<line x1="194.3" y1="588.5" x2="194.3" y2="589.2" stroke="#f7941d" stroke-width="1.2"/>
<line x1="189.65" y1="589.2" x2="198.95000000000002" y2="589.2" stroke="#f7941d" stroke-width="1.2"/>
<rect x="185.05" y="551.9" width="18.5" height="36.60000000000002" fill="none" stroke="#f7941d" stroke-width="1.2"/>
<line x1="185.05" y1="576.5" x2="203.55" y2="576.5" stroke="#f7941d" stroke-width="1.2"/>
<line x1="222.7" y1="518.8" x2="222.7" y2="530.9" stroke="#0c6f55" stroke-width="1.2"/>
<line x1="222.7" y1="540.7" x2="222.7" y2="578.4" stroke="#0c6f55" stroke-width="1.2"/>
<line x1="218.45" y1="518.8" x2="226.95" y2="518.8" stroke="#0c6f55" stroke-width="1.2"/>
<line x1="222.7" y1="587.4" x2="222.7" y2="589.7" stroke="#0c6f55" stroke-width="1.2"/>
<line x1="218.45" y1="589.7" x2="226.95" y2="589.7" stroke="#0c6f55" stroke-width="1.2"/>
<rect x="213.5" y="578.4" width="18.4" height="9.0" fill="none" stroke="#0c6f55" stroke-width="1.2"/>
<line x1="213.5" y1="583.5" x2="231.89999999999998" y2="583.5" stroke="#0c6f55" stroke-width="1.2"/>
<polyline points="137.6,505.7 137.6,470.4 165.8,470.4 165.8,531.1" fill="none" stroke="#111" stroke-width="1.25" stroke-linejoin="miter" stroke-linecap="butt"/>
<polyline points="194.2,475 194.2,470.4 222.8,470.4 222.8,505.7" fill="none" stroke="#111" stroke-width="1.25" stroke-linejoin="miter" stroke-linecap="butt"/>
<circle cx="146.2" cy="465.8" r="1.1" fill="#111"/>
<circle cx="151.2" cy="465.8" r="1.1" fill="#111"/>
<circle cx="205.2" cy="465.6" r="1.1" fill="#111"/>
<text x="81.3" y="610.4" font-size="8.2" text-anchor="middle" fill="#111" font-weight="normal" stroke="#111" stroke-width="0.16" textLength="21.9" lengthAdjust="spacingAndGlyphs">2-3W</text>
<text x="109.2" y="610.4" font-size="8.2" text-anchor="middle" fill="#111" font-weight="normal" stroke="#111" stroke-width="0.16" textLength="12.4" lengthAdjust="spacingAndGlyphs">6M</text>
<text x="137.7" y="610.4" font-size="8.2" text-anchor="middle" fill="#111" font-weight="normal" stroke="#111" stroke-width="0.16" textLength="21.6" lengthAdjust="spacingAndGlyphs">2-3W</text>
<text x="166" y="610.4" font-size="8.2" text-anchor="middle" fill="#111" font-weight="normal" stroke="#111" stroke-width="0.16" textLength="12.7" lengthAdjust="spacingAndGlyphs">6M</text>
<text x="194.4" y="610.4" font-size="8.2" text-anchor="middle" fill="#111" font-weight="normal" stroke="#111" stroke-width="0.16" textLength="21.2" lengthAdjust="spacingAndGlyphs">2-3W</text>
<text x="222.7" y="610.4" font-size="8.2" text-anchor="middle" fill="#111" font-weight="normal" stroke="#111" stroke-width="0.16" textLength="12.3" lengthAdjust="spacingAndGlyphs">6M</text>
<polyline points="81.3,612.4 81.3,618.3 111.4,618.3 111.4,612.4" fill="none" stroke="#111" stroke-width="1.25" stroke-linejoin="miter" stroke-linecap="butt"/>
<polyline points="137.7,612.4 137.7,618.3 167.6,618.3 167.6,612.4" fill="none" stroke="#111" stroke-width="1.25" stroke-linejoin="miter" stroke-linecap="butt"/>
<polyline points="194.2,612.4 194.2,618.3 224.6,618.3 224.6,612.4" fill="none" stroke="#111" stroke-width="1.25" stroke-linejoin="miter" stroke-linecap="butt"/>
<text x="94" y="627.7" font-size="8.2" text-anchor="middle" fill="#111" font-weight="normal" stroke="#111" stroke-width="0.16" textLength="58.9" lengthAdjust="spacingAndGlyphs">Treatment naive</text>
<text x="152.1" y="627.7" font-size="8.2" text-anchor="middle" fill="#111" font-weight="normal" stroke="#111" stroke-width="0.16" textLength="41.9" lengthAdjust="spacingAndGlyphs">On-therapy</text>
<text x="211.5" y="627.7" font-size="8.2" text-anchor="middle" fill="#111" font-weight="normal" stroke="#111" stroke-width="0.16" textLength="65.4" lengthAdjust="spacingAndGlyphs">Previously treated</text>
<text x="152.3" y="644.6" font-size="9.8" text-anchor="middle" fill="#1e1e1e" font-weight="normal" stroke="#1e1e1e" stroke-width="0.3" textLength="87.4" lengthAdjust="spacingAndGlyphs">Time post second vaccination</text>
<text x="276.4" y="453.1" font-size="11.5" text-anchor="start" fill="#000" font-weight="bold">F</text>
<line x1="325.9" y1="479.8" x2="325.9" y2="491.8" stroke="#111" stroke-width="1.45"/>
<line x1="320.9" y1="480.5" x2="325.9" y2="480.5" stroke="#111" stroke-width="1.45"/>
<text x="317.3" y="483.5" font-size="8.2" text-anchor="end" fill="#111" font-weight="normal" stroke="#111" stroke-width="0.16" textLength="25.08" lengthAdjust="spacingAndGlyphs">14000</text>
<line x1="322.9" y1="491.8" x2="328.9" y2="491.8" stroke="#111" stroke-width="1.45"/>
<text x="317.3" y="494.8" font-size="8.2" text-anchor="end" fill="#111" font-weight="normal" stroke="#111" stroke-width="0.16" textLength="25.08" lengthAdjust="spacingAndGlyphs">13000</text>
<line x1="325.9" y1="500.7" x2="325.9" y2="600.6" stroke="#111" stroke-width="1.45"/>
<line x1="322.9" y1="500.7" x2="328.9" y2="500.7" stroke="#111" stroke-width="1.45"/>
<text x="317.3" y="503.7" font-size="8.2" text-anchor="end" fill="#111" font-weight="normal" stroke="#111" stroke-width="0.16" textLength="20.07" lengthAdjust="spacingAndGlyphs">6000</text>
<line x1="321.29999999999995" y1="529.1" x2="325.9" y2="529.1" stroke="#111" stroke-width="1.45"/>
<text x="317.3" y="532.1" font-size="8.2" text-anchor="end" fill="#111" font-weight="normal" stroke="#111" stroke-width="0.16" textLength="20.07" lengthAdjust="spacingAndGlyphs">4000</text>
<line x1="321.29999999999995" y1="557.6" x2="325.9" y2="557.6" stroke="#111" stroke-width="1.45"/>
<text x="317.3" y="560.6" font-size="8.2" text-anchor="end" fill="#111" font-weight="normal" stroke="#111" stroke-width="0.16" textLength="20.07" lengthAdjust="spacingAndGlyphs">2000</text>
<line x1="321.29999999999995" y1="586" x2="325.9" y2="586" stroke="#111" stroke-width="1.45"/>
<text x="317.3" y="589.0" font-size="8.2" text-anchor="end" fill="#111" font-weight="normal" stroke="#111" stroke-width="0.16" textLength="5.02" lengthAdjust="spacingAndGlyphs">0</text>
<line x1="325.2" y1="600" x2="505.6" y2="600" stroke="#111" stroke-width="1.45"/>
<line x1="353.1" y1="600" x2="353.1" y2="604.2" stroke="#111" stroke-width="1.45"/>
<line x1="394.6" y1="600" x2="394.6" y2="604.2" stroke="#111" stroke-width="1.45"/>
<line x1="436" y1="600" x2="436" y2="604.2" stroke="#111" stroke-width="1.45"/>
<line x1="477.7" y1="600" x2="477.7" y2="604.2" stroke="#111" stroke-width="1.45"/>
<text transform="translate(284.9,541) rotate(-90)" x="0" y="0" font-size="9.8" text-anchor="middle" fill="#1e1e1e" stroke="#1e1e1e" stroke-width="0.3" textLength="80.2" lengthAdjust="spacingAndGlyphs">Anti-SARS-CoV-2S&#160;&#160;(U/mL)</text>
<polyline points="434.9,473.2 434.9,469.2 477.7,469.2 477.7,507.2" fill="none" stroke="#111" stroke-width="1.25" stroke-linejoin="miter" stroke-linecap="butt"/>
<circle cx="450" cy="464.7" r="1.1" fill="#111"/>
<circle cx="454.7" cy="464.7" r="1.1" fill="#111"/>
<line x1="353.1" y1="586" x2="394.6" y2="586" stroke="#c8102e" stroke-width="0.9"/>
<line x1="353.1" y1="586" x2="394.6" y2="585" stroke="#c8102e" stroke-width="0.9"/>
<line x1="353.1" y1="586" x2="394.6" y2="584" stroke="#c8102e" stroke-width="0.9"/>
<line x1="353.1" y1="586" x2="394.6" y2="583.6" stroke="#c8102e" stroke-width="0.9"/>
<line x1="353.1" y1="586" x2="394.6" y2="585.6" stroke="#c8102e" stroke-width="0.9"/>
<circle cx="353.1" cy="586" r="1.2" fill="#c8102e"/>
<circle cx="394.6" cy="586" r="1.2" fill="#c8102e"/>
<circle cx="353.1" cy="586" r="1.2" fill="#c8102e"/>
<circle cx="394.6" cy="585" r="1.2" fill="#c8102e"/>
<circle cx="353.1" cy="586" r="1.2" fill="#c8102e"/>
<circle cx="394.6" cy="584" r="1.2" fill="#c8102e"/>
<circle cx="353.1" cy="586" r="1.2" fill="#c8102e"/>
<circle cx="394.6" cy="583.6" r="1.2" fill="#c8102e"/>
<circle cx="353.1" cy="586" r="1.2" fill="#c8102e"/>
<circle cx="394.6" cy="585.6" r="1.2" fill="#c8102e"/>
<line x1="436" y1="482.8" x2="477.3" y2="573" stroke="#165185" stroke-width="0.95"/>
<line x1="436" y1="504.7" x2="477.3" y2="565.8" stroke="#165185" stroke-width="0.95"/>
<line x1="436" y1="530.1" x2="477.3" y2="574.1" stroke="#165185" stroke-width="0.95"/>
<line x1="436" y1="534.8" x2="477.3" y2="571.4" stroke="#165185" stroke-width="0.95"/>
<line x1="436" y1="544" x2="477.3" y2="584.5" stroke="#165185" stroke-width="0.95"/>
<line x1="436" y1="550" x2="477.3" y2="582.8" stroke="#165185" stroke-width="0.95"/>
<line x1="436" y1="557.7" x2="477.3" y2="574.1" stroke="#165185" stroke-width="0.95"/>
<line x1="436" y1="561.5" x2="477.3" y2="585.6" stroke="#165185" stroke-width="0.95"/>
<line x1="436" y1="563.2" x2="477.3" y2="580.7" stroke="#165185" stroke-width="0.95"/>
<line x1="436" y1="569.7" x2="477.3" y2="514.9" stroke="#165185" stroke-width="0.95"/>
<line x1="436" y1="569.7" x2="477.3" y2="569.7" stroke="#165185" stroke-width="0.95"/>
<line x1="436" y1="571.4" x2="477.3" y2="584.5" stroke="#165185" stroke-width="0.95"/>
<line x1="436" y1="573" x2="477.3" y2="585.6" stroke="#165185" stroke-width="0.95"/>
<line x1="436" y1="574.6" x2="477.3" y2="582.8" stroke="#165185" stroke-width="0.95"/>
<line x1="436" y1="575.7" x2="477.3" y2="580.7" stroke="#165185" stroke-width="0.95"/>
<circle cx="436" cy="482.8" r="1.2" fill="#165185"/>
<circle cx="477.3" cy="573" r="1.2" fill="#165185"/>
<circle cx="436" cy="504.7" r="1.2" fill="#165185"/>
<circle cx="477.3" cy="565.8" r="1.2" fill="#165185"/>
<circle cx="436" cy="530.1" r="1.2" fill="#165185"/>
<circle cx="477.3" cy="574.1" r="1.2" fill="#165185"/>
<circle cx="436" cy="534.8" r="1.2" fill="#165185"/>
<circle cx="477.3" cy="571.4" r="1.2" fill="#165185"/>
<circle cx="436" cy="544" r="1.2" fill="#165185"/>
<circle cx="477.3" cy="584.5" r="1.2" fill="#165185"/>
<circle cx="436" cy="550" r="1.2" fill="#165185"/>
<circle cx="477.3" cy="582.8" r="1.2" fill="#165185"/>
<circle cx="436" cy="557.7" r="1.2" fill="#165185"/>
<circle cx="477.3" cy="574.1" r="1.2" fill="#165185"/>
<circle cx="436" cy="561.5" r="1.2" fill="#165185"/>
<circle cx="477.3" cy="585.6" r="1.2" fill="#165185"/>
<circle cx="436" cy="563.2" r="1.2" fill="#165185"/>
<circle cx="477.3" cy="580.7" r="1.2" fill="#165185"/>
<circle cx="436" cy="569.7" r="1.2" fill="#165185"/>
<circle cx="477.3" cy="514.9" r="1.2" fill="#165185"/>
<circle cx="436" cy="569.7" r="1.2" fill="#165185"/>
<circle cx="477.3" cy="569.7" r="1.2" fill="#165185"/>
<circle cx="436" cy="571.4" r="1.2" fill="#165185"/>
<circle cx="477.3" cy="584.5" r="1.2" fill="#165185"/>
<circle cx="436" cy="573" r="1.2" fill="#165185"/>
<circle cx="477.3" cy="585.6" r="1.2" fill="#165185"/>
<circle cx="436" cy="574.6" r="1.2" fill="#165185"/>
<circle cx="477.3" cy="582.8" r="1.2" fill="#165185"/>
<circle cx="436" cy="575.7" r="1.2" fill="#165185"/>
<circle cx="477.3" cy="580.7" r="1.2" fill="#165185"/>
<text x="354.5" y="614.6" font-size="8.2" text-anchor="middle" fill="#111" font-weight="normal" stroke="#111" stroke-width="0.16" textLength="23.5" lengthAdjust="spacingAndGlyphs">2–3W</text>
<text x="394.4" y="614.6" font-size="8.2" text-anchor="middle" fill="#111" font-weight="normal" stroke="#111" stroke-width="0.16" textLength="12.1" lengthAdjust="spacingAndGlyphs">6M</text>
<text x="437.1" y="614.6" font-size="8.2" text-anchor="middle" fill="#111" font-weight="normal" stroke="#111" stroke-width="0.16" textLength="22.8" lengthAdjust="spacingAndGlyphs">2–3W</text>
<text x="477.2" y="614.6" font-size="8.2" text-anchor="middle" fill="#111" font-weight="normal" stroke="#111" stroke-width="0.16" textLength="12.4" lengthAdjust="spacingAndGlyphs">6M</text>
<polyline points="352.3,617.1 352.3,622 394.6,622 394.6,617.1" fill="none" stroke="#111" stroke-width="1.25" stroke-linejoin="miter" stroke-linecap="butt"/>
<polyline points="435.8,617.4 435.8,622.6 477.3,622.6 477.3,617.4" fill="none" stroke="#111" stroke-width="1.25" stroke-linejoin="miter" stroke-linecap="butt"/>
<text x="373.1" y="631.2" font-size="8.2" text-anchor="middle" fill="#111" font-weight="normal" stroke="#111" stroke-width="0.16" textLength="20.8" lengthAdjust="spacingAndGlyphs">Weak</text>
<text x="456" y="631.2" font-size="8.2" text-anchor="middle" fill="#111" font-weight="normal" stroke="#111" stroke-width="0.16" textLength="25.1" lengthAdjust="spacingAndGlyphs">Strong</text>
<text x="415.3" y="647.5" font-size="9.8" text-anchor="middle" fill="#1e1e1e" font-weight="normal" stroke="#1e1e1e" stroke-width="0.3" textLength="70.7" lengthAdjust="spacingAndGlyphs">Initial immune response</text>
</svg></body></html>
